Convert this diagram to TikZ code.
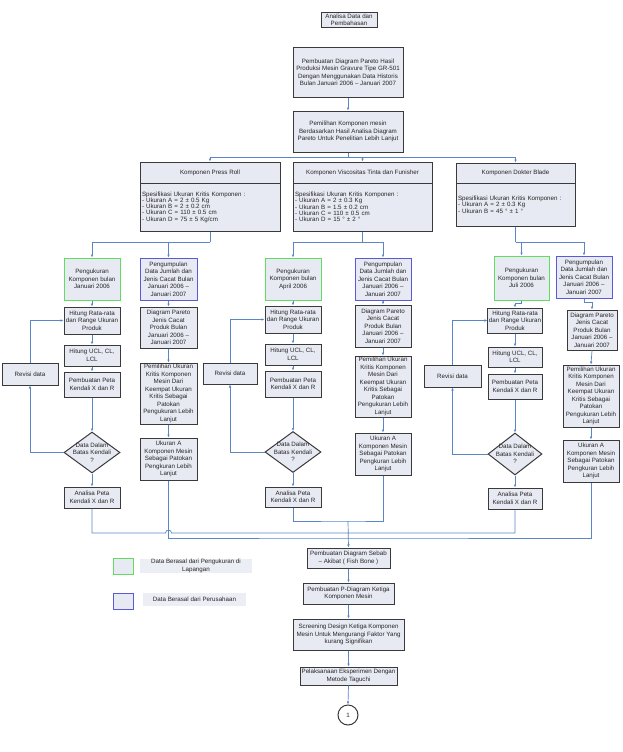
\documentclass[tikz,border=0pt]{standalone}
\usepackage{fontspec}
\setmainfont{Liberation Sans}
\usetikzlibrary{shapes.geometric,arrows.meta,calc}
\definecolor{boxfill}{HTML}{E8EAF3}
\definecolor{boxline}{HTML}{3A3A3A}
\definecolor{conn}{HTML}{5A86C5}
\definecolor{grn}{HTML}{60DD60}
\definecolor{blu}{HTML}{5A5AD8}
\definecolor{lgfill}{HTML}{ECEEF5}
\begin{document}
\begin{tikzpicture}[x=1pt,y=-1pt,
  txt/.style={font=\fontsize{6.2}{7.5}\selectfont, align=center, text=black!85},
  bx/.style={txt, draw=boxline, fill=boxfill, line width=1pt, inner sep=1pt},
  sz/.style 2 args={minimum width=#1pt, minimum height=#2pt},
  gbx/.style={bx, draw=grn},
  bbx/.style={bx, draw=blu},
  dia/.style={draw=boxline, fill=boxfill, line width=1pt, diamond, inner sep=0pt},
  spec/.style={bx, align=left, font=\fontsize{6.2}{6.3}\selectfont, inner xsep=2pt},
  arr/.style={draw=conn, line width=0.7pt, -{Latex[length=3pt,width=2.6pt]}},
  ln/.style={draw=conn, line width=0.7pt},
]
\useasboundingbox[fill=white] (0,0) rectangle (622,752);

% top
\node[bx, sz={56}{15}, inner sep=0pt] (top) at (349,20) {Analisa Data dan\\Pembahasan};
\node[bx, sz={110}{49}] (par) at (348,72.5) {Pembuatan Diagram Pareto Hasil\\Produksi Mesin Gravure Tipe GR-501\\Dengan Menggunakan Data Historis\\Bulan Januari 2006 – Januari 2007};
\node[bx, sz={110}{41}] (pem) at (348,131.5) {Pemilihan Komponen mesin\\Berdasarkan Hasil Analisa Diagram\\Pareto Untuk Penelitian Lebih Lanjut};

% components
\node[bx, sz={140}{21}] (prh) at (210,172.5) {Komponen Press Roll};
\node[spec, sz={140}{48}, text width=136pt] (prs) at (210,207) {Spesifikasi Ukuran Kritis Komponen :\\- Ukuran A = 2 ± 0.5 Kg\\- Ukuran B = 2 ± 0.2 cm\\- Ukuran C = 110 ± 0.5 cm\\- Ukuran D = 75 ± 5 Kg/cm};
\node[bx, sz={139}{21}] (vih) at (362.5,172.5) {Komponen Viscositas Tinta dan Funisher};
\node[spec, sz={139}{48}, text width=135pt] (vis) at (362.5,207) {Spesifikasi Ukuran Kritis Komponen :\\- Ukuran A = 2 ± 0.3 Kg\\- Ukuran B = 1.5 ± 0.2 cm\\- Ukuran C = 110 ± 0.5 cm\\- Ukuran D = 15 ° ± 2 °};
\node[bx, sz={119}{20}] (dbh) at (515.5,173) {Komponen Dokter Blade};
\node[spec, sz={119}{43}, text width=115pt] (dbs) at (515.5,204.5) {Spesifikasi Ukuran Kritis Komponen :\\- Ukuran A = 2 ± 0.3 Kg\\- Ukuran B = 45 ° ± 1 °};

% group 1
\node[gbx, sz={56}{42}] (g1) at (92,279) {Pengukuran\\Komponen bulan\\Januari 2006};
\node[bbx, sz={57}{42}] (b1) at (168.5,279) {Pengumpulan\\Data Jumlah dan\\Jenis Cacat Bulan\\Januari 2006 –\\Januari 2007};
\node[bx, sz={56}{27}] (h1) at (92,320.5) {Hitung Rata-rata\\dan Range Ukuran\\Produk};
\node[bx, sz={56}{21}] (u1) at (92,355.5) {Hitung UCL, CL,\\LCL};
\node[bx, sz={56}{25}] (p1) at (92,384.5) {Pembuatan Peta\\Kendali X dan R};
\node[dia, minimum width=56pt, minimum height=41pt] (d1) at (92,452.5) {};
\node[txt] (d1t) at (d1.center) {Data Dalam\\Batas Kendali\\?};
\node[bx, sz={56}{21}] (a1) at (92,497.5) {Analisa Peta\\Kendali X dan R};
\node[bx, sz={56}{22}] (rv1) at (30,374) {Revisi data};
\node[bx, sz={57}{41}] (dp1) at (168.5,327.5) {Diagram Pareto\\Jenis Cacat\\Produk Bulan\\Januari 2006 –\\Januari 2007};
\node[bx, sz={57}{61}] (pm1) at (168.5,393.5) {Pemilihan Ukuran\\Kritis Komponen\\Mesin Dari\\Keempat Ukuran\\Kritis Sebagai\\Patokan\\Pengukuran Lebih\\Lanjut};
\node[bx, sz={57}{42}] (ua1) at (168.5,459) {Ukuran A\\Komponen Mesin\\Sebagai Patokan\\Pengkuran Lebih\\Lanjut};

% group 2
\node[gbx, sz={56}{42}] (g2) at (293,279) {Pengukuran\\Komponen bulan\\April 2006};
\node[bbx, sz={56}{42}] (b2) at (383,279) {Pengumpulan\\Data Jumlah dan\\Jenis Cacat Bulan\\Januari 2006 –\\Januari 2007};
\node[bx, sz={56}{27}] (h2) at (293,319.5) {Hitung Rata-rata\\dan Range Ukuran\\Produk};
\node[bx, sz={56}{21}] (u2) at (293,354.5) {Hitung UCL, CL,\\LCL};
\node[bx, sz={56}{26}] (p2) at (293,384) {Pembuatan Peta\\Kendali X dan R};
\node[dia, minimum width=56pt, minimum height=41pt] (d2) at (293,452) {};
\node[txt] (d2t) at (d2.center) {Data Dalam\\Batas Kendali\\?};
\node[bx, sz={56}{20}] (a2) at (293,497) {Analisa Peta\\Kendali X dan R};
\node[bx, sz={54}{21}] (rv2) at (230,373.5) {Revisi data};
\node[bx, sz={56}{42}] (dp2) at (383,326) {Diagram Pareto\\Jenis Cacat\\Produk Bulan\\Januari 2006 –\\Januari 2007};
\node[bx, sz={56}{61}] (pm2) at (383,386.5) {Pemilihan Ukuran\\Kritis Komponen\\Mesin Dari\\Keempat Ukuran\\Kritis Sebagai\\Patokan\\Pengukuran Lebih\\Lanjut};
\node[bx, sz={56}{42}] (ua2) at (383,454) {Ukuran A\\Komponen Mesin\\Sebagai Patokan\\Pengkuran Lebih\\Lanjut};

% group 3
\node[gbx, sz={55}{44}] (g3) at (521.5,278) {Pengukuran\\Komponen bulan\\Juli 2006};
\node[bbx, sz={56}{42}] (b3) at (584,277) {Pengumpulan\\Data Jumlah dan\\Jenis Cacat Bulan\\Januari 2006 –\\Januari 2007};
\node[bx, sz={54}{25}] (h3) at (515,320.5) {Hitung Rata-rata\\dan Range Ukuran\\Produk};
\node[bx, sz={54}{20}] (u3) at (515,357) {Hitung UCL, CL,\\LCL};
\node[bx, sz={54}{25}] (p3) at (515,386.5) {Pembuatan Peta\\Kendali X dan R};
\node[dia, minimum width=54pt, minimum height=42pt] (d3) at (515,454) {};
\node[txt] (d3t) at (d3.center) {Data Dalam\\Batas Kendali\\?};
\node[bx, sz={54}{21}] (a3) at (515,498.5) {Analisa Peta\\Kendali X dan R};
\node[bx, sz={57}{22}] (rv3) at (452.5,376) {Revisi data};
\node[bx, sz={50}{40}] (dp3) at (592,330) {Diagram Pareto\\Jenis Cacat\\Produk Bulan\\Januari 2006 –\\Januari 2007};
\node[bx, sz={56}{62}] (pm3) at (591,396) {Pemilihan Ukuran\\Kritis Komponen\\Mesin Dari\\Keempat Ukuran\\Kritis Sebagai\\Patokan\\Pengukuran Lebih\\Lanjut};
\node[bx, sz={56}{42}] (ua3) at (591,461) {Ukuran A\\Komponen Mesin\\Sebagai Patokan\\Pengkuran Lebih\\Lanjut};

% bottom chain
\node[bx, sz={83}{20}] (fish) at (348.5,558) {Pembuatan Diagram Sebab\\– Akibat ( Fish Bone )};
\node[bx, sz={91}{21}] (pd) at (348.5,593.5) {Pembuatan P-Diagram Ketiga\\Komponen Mesin};
\node[bx, sz={111}{31}] (scr) at (348.5,634.5) {Screening Design Ketiga Komponen\\Mesin Untuk Mengurangi Faktor Yang\\kurang Signifikan};
\node[bx, sz={97}{18}, inner sep=0.5pt] (pel) at (348.5,676) {Pelaksanaan Eksperimen Dengan\\Metode Taguchi};
\node[txt, draw=boxline, fill=white, line width=1pt, circle, minimum size=20pt, inner sep=0pt] (c1) at (348,715) {1};

% legend
\node[gbx, sz={20}{16}] (lg) at (123,566) {};
\node[txt, fill=lgfill, sz={112}{14}, inner sep=0.5pt] (lgt) at (196,566) {Data Berasal dari Pengukuran di\\Lapangan};
\node[bbx, sz={20}{16}] (lb) at (123,601) {};
\node[txt, fill=lgfill, sz={103}{13}, inner sep=0.5pt] (lbt) at (194.5,599.5) {Data Berasal dari Perusahaan};

% connectors top
\draw[arr] (par.south) -- (pem.north);
\coordinate (bus0) at (348,157);
\draw[ln] (pem.south) -- (bus0);
\draw[arr] (bus0) -| (prh.north);
\draw[arr] (bus0) -| (vih.north);
\draw[arr] (bus0) -| (dbh.north);

\coordinate (j1) at (210,242);
\coordinate (j2) at (362.5,242);
\coordinate (j3) at (515.5,242);
\draw[ln] (prs.south) -- (j1);
\draw[arr] (j1) -| (g1.north);
\draw[arr] (j1) -| (b1.north);
\draw[ln] (vis.south) -- (j2);
\draw[arr] (j2) -| (g2.north);
\draw[arr] (j2) -| (b2.north);
\draw[ln] (dbs.south) -- (j3);
\draw[arr] (j3) -| (g3.north);
\draw[arr] (j3) -| (b3.north);

% group chains
\foreach \i in {1,2} {
  \draw[arr] (g\i.south) -- (h\i.north);
}
\draw[arr] (g3.south) -- ++(0,3) -| (h3.north);
\foreach \i in {1,2,3} {
  \draw[arr] (h\i.south) -- (u\i.north);
  \draw[arr] (u\i.south) -- (p\i.north);
  \draw[arr] (p\i.south) -- (d\i.north);
  \draw[arr] (d\i.south) -- (a\i.north);
  \draw[arr] (d\i.west) -| (rv\i.south);
  \draw[arr] (rv\i.north) |- (h\i.west);
  \draw[arr] (dp\i.south) -- (pm\i.north);
  \draw[arr] (pm\i.south) -- (ua\i.north);
}
\draw[arr] (b1.south) -- (dp1.north);
\draw[arr] (b2.south) -- (dp2.north);
\draw[arr] (b3.south) -- ++(0,4) -| (dp3.north);

% bottom buses
\coordinate (bA) at (348,533);
\coordinate (bB) at (348,538);
\coordinate (bC) at (348,521);
\coordinate (hop1) at (165.5,533);
\draw[ln] (a1.south) |- (hop1) arc[start angle=180,end angle=360,radius=3] -- (bA) -| (a3.south);
\draw[ln] (ua1.south) |- (bB) -| (ua3.south);
\draw[ln] (a2.south) |- (bC) -| (ua2.south);
\draw[arr] (bC) -- (fish.north);

\draw[arr] (fish.south) -- (pd.north);
\draw[arr] (pd.south) -- (scr.north);
\draw[arr] (scr.south) -- (pel.north);
\draw[arr] (pel.south) -- (c1.north);
\end{tikzpicture}
\end{document}
